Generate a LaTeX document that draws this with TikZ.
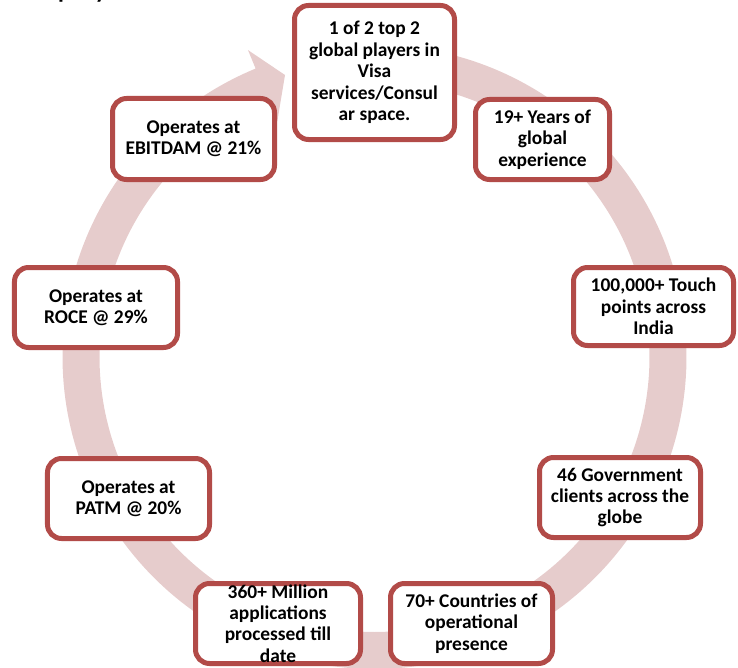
\documentclass[tikz,border=0pt]{standalone}
\usepackage{fontspec}
\setmainfont{Carlito}
\definecolor{ringc}{RGB}{230,204,204}
\definecolor{boxc}{RGB}{178,75,72}
\begin{document}
\begin{tikzpicture}[x=1bp,y=-1bp,
  box/.style={draw=boxc, line width=5bp, fill=white, rounded corners=14bp,
    align=center, inner sep=0pt, text=black,
    font=\bfseries\fontsize{19.5}{21.5}\selectfont}]
\useasboundingbox (0,0) rectangle (738,668);
% clipped title fragment
\begin{scope}
\clip (0,0) rectangle (738,668);
\node[anchor=base west, inner sep=0pt, font=\bfseries\fontsize{24}{28}\selectfont] (title) at (13,-1) {Company};
\end{scope}
% circular arrow band
\fill[ringc]
  plot[domain=80:-247.6, samples=240] ({374.5+312*cos(\x)},{357-312*sin(\x)})
  -- ({374.5+332*cos(112.4)},{357-332*sin(112.4)})
  -- (285,75)
  -- ({374.5+255*cos(112.4)},{357-255*sin(112.4)})
  -- plot[domain=-247.6:80, samples=240] ({374.5+275*cos(\x)},{357-275*sin(\x)})
  -- cycle;
% boxes
\node[box, minimum width=160bp, minimum height=134bp] (top) at (374.5,72.5)
  {1 of 2 top 2\\global players in\\Visa\\services/Consul\\ar space.};
\node[box, minimum width=134bp, minimum height=80bp] (years) at (542.5,139.5)
  {19+ Years of\\global\\experience};
\node[box, minimum width=160bp, minimum height=78bp] (touch) at (653.5,306.5)
  {100,000+ Touch\\points across\\India};
\node[box, minimum width=161bp, minimum height=80bp] (gov) at (620,497.5)
  {46 Government\\clients across the\\globe};
\node[box, minimum width=162bp, minimum height=80bp] (countries) at (471.5,623.5)
  {70+ Countries of\\operational\\presence};
\node[box, minimum width=165bp, minimum height=80bp] (million) at (278,623.5)
  {360+ Million\\applications\\processed till\\date};
\node[box, minimum width=162bp, minimum height=80bp] (patm) at (128.5,498.5)
  {Operates at\\PATM @ 20\%};
\node[box, minimum width=163bp, minimum height=80bp] (roce) at (96,307.5)
  {Operates at\\ROCE @ 29\%};
\node[box, minimum width=162bp, minimum height=81bp] (ebit) at (193.5,139)
  {Operates at\\EBITDAM @ 21\%};
\end{tikzpicture}
\end{document}
